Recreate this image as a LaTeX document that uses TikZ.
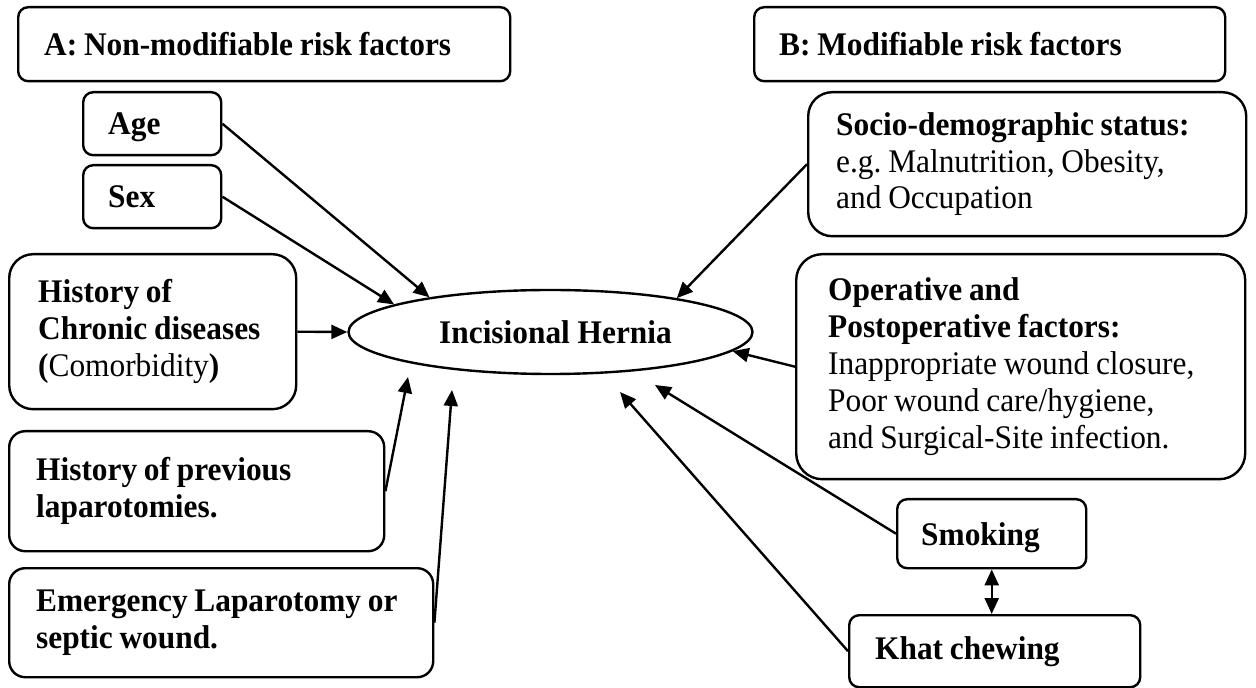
\documentclass[tikz,border=0pt]{standalone}
\usepackage{fontspec}
\setmainfont{Liberation Serif}[FakeStretch=0.95]
\usetikzlibrary{arrows.meta,shapes.geometric}
\frenchspacing

\begin{document}
\begin{tikzpicture}[x=0.5pt,y=-0.5pt,
    box/.style={draw,line width=1.2pt,anchor=north west,align=left,
        font=\fontsize{16.5pt}{18.4pt}\selectfont,
        execute at begin node={\spaceskip=3.4pt\relax}},
    arr/.style={line width=1.2pt,-{Triangle[length=8pt,width=7pt]}}]
    \useasboundingbox (0,0) rectangle (1256,688);

    \node[box,rounded corners=5pt,minimum width=246pt,minimum height=37pt,inner xsep=13pt,text width=220pt] (headA) at (17,6) {\textbf{A: Non-modifiable risk factors}};
    \node[box,rounded corners=5pt,minimum width=235.5pt,minimum height=37pt,inner xsep=12.5pt,text width=210.5pt] (headB) at (753,6) {\textbf{B: Modifiable risk factors}};

    \node[box,rounded corners=5pt,minimum width=69pt,minimum height=31.5pt,inner xsep=12.5pt,text width=44pt,text depth=0pt] (age) at (82,91) {\textbf{Age}};
    \node[box,rounded corners=5pt,minimum width=69pt,minimum height=31.5pt,inner xsep=12.5pt,text width=44pt,text depth=0pt] (sex) at (82,164) {\textbf{Sex}};
    \node[box,rounded corners=12pt,minimum width=143.5pt,minimum height=77.5pt,inner xsep=14.5pt,text width=114.5pt] (chronic) at (8,253) {\textbf{History of}\\ \textbf{Chronic diseases}\\ \textbf{(}Comorbidity\textbf{)}};
    \node[box,rounded corners=8pt,minimum width=187.5pt,minimum height=60pt,inner xsep=13.5pt,text width=160.5pt] (laparo) at (8,430) {\textbf{History of previous}\\ \textbf{laparotomies.}};
    \node[box,rounded corners=8pt,minimum width=212pt,minimum height=54.5pt,inner xsep=13.5pt,text width=185pt] (emerg) at (8,567) {\textbf{Emergency Laparotomy or}\\ \textbf{septic wound.}};

    \node[draw,line width=1.2pt,ellipse,minimum width=202pt,minimum height=42pt,inner sep=0pt,
        font=\fontsize{16.5pt}{18.4pt}\selectfont\bfseries] (hernia) at (550.5,332) {\hspace{5pt}Incisional Hernia};

    \node[box,rounded corners=12pt,minimum width=219pt,minimum height=72pt,inner xsep=14pt,text width=191pt] (socio) at (807,91) {\textbf{Socio-demographic status:}\\ e.g. Malnutrition, Obesity,\\ and Occupation};
    \node[box,rounded corners=13pt,minimum width=224.5pt,minimum height=112.5pt,inner xsep=16pt,text width=192.5pt] (operative) at (795,253) {\textbf{Operative and}\\ \textbf{Postoperative factors:}\\ Inappropriate wound closure,\\ Poor wound care/hygiene,\\ and Surgical-Site infection.};
    \node[box,rounded corners=5pt,minimum width=94.5pt,minimum height=34.5pt,inner xsep=12pt,text width=70.5pt,text depth=0pt] (smoking) at (896,498) {\textbf{Smoking}};
    \node[box,rounded corners=5pt,minimum width=145.5pt,minimum height=36pt,inner xsep=13pt,text width=119.5pt] (khat) at (848,614) {\textbf{Khat chewing}};

    \coordinate (lapend) at (408,377);
    \coordinate (emergend) at (452,390);
    \coordinate (smokeend) at (655,385);
    \coordinate (khatend) at (620,392);

    \draw[arr] (age.east) -- (hernia.164);
    \draw[arr] (sex.east) -- (hernia.170);
    \draw[arr] (chronic.east) -- (hernia.west);
    \draw[arr] (laparo.east) -- (lapend);
    \draw[arr] (emerg.east) -- (emergend);
    \draw[arr] (socio.west) -- (hernia.15);
    \draw[arr] (operative.west) -- (hernia.354);
    \draw[arr] (smoking.west) -- (smokeend);
    \draw[arr] (khat.west) -- (khatend);
    \draw[line width=1.2pt,{Triangle[length=8pt,width=7pt]}-{Triangle[length=8pt,width=7pt]}] (smoking.south) -- (smoking.south |- khat.north);
\end{tikzpicture}
\end{document}
